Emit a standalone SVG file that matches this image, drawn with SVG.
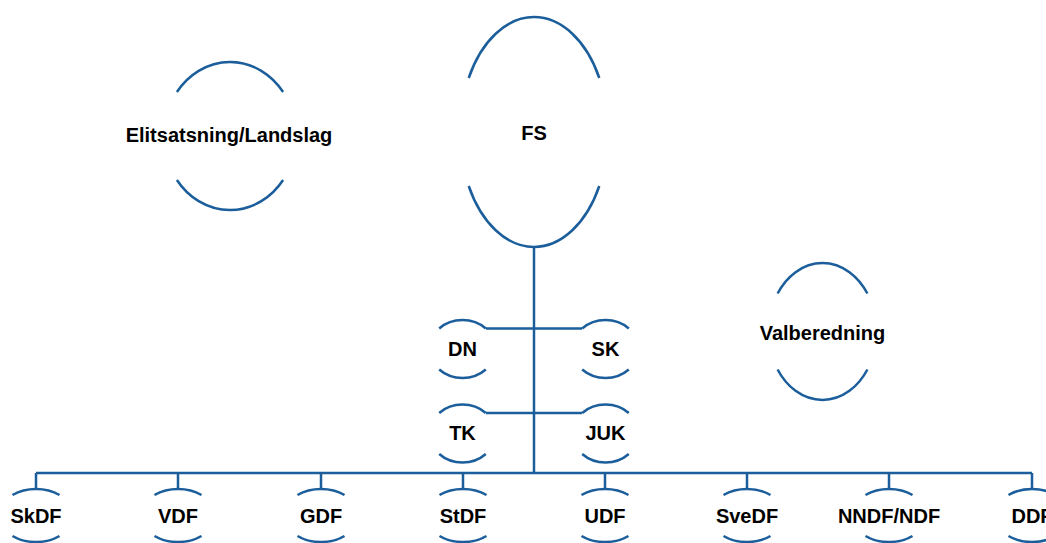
<svg xmlns="http://www.w3.org/2000/svg" width="1046" height="543" viewBox="0 0 1046 543">
<style>
.arc{fill:none;stroke:#1B5E9B;stroke-width:2.5}
.ln{fill:none;stroke:#1B5E9B;stroke-width:2.5}
.t{font-family:"Liberation Sans",Arial,sans-serif;font-weight:bold;font-size:20px;fill:#000;text-anchor:middle}
</style>
<rect width="1046" height="543" fill="#fff"/>
<g id="connectors">
<path class="ln" d="M534 247V474" stroke-width="3"/>
<path class="ln" d="M36 473H1032"/>
<path class="ln" d="M36 473V489M178 473V489M321 473V489M463 473V489M605 473V489M747 473V489M889 473V489M1032 473V489"/>
<path class="ln" d="M486 328.5H582"/>
<path class="ln" d="M486 413H582"/>
</g>
<g id="elit">
<path class="arc" d="M176.9 92A66 74 0 0 1 283.1 92M176.9 180A66 74 0 0 0 283.1 180"/>
<text class="t" x="229" y="142">Elitsatsning/Landslag</text>
</g>
<g id="fs">
<path class="arc" d="M468.7 78A74 115 0 0 1 599.3 78M468.7 186A74 115 0 0 0 599.3 186"/>
<text class="t" x="534" y="140">FS</text>
</g>
<g id="valb">
<path class="arc" d="M777.6 293.5A54 68.5 0 0 1 867.4 293.5M777.6 369.5A54 68.5 0 0 0 867.4 369.5"/>
<text class="t" x="822.5" y="340">Valberedning</text>
</g>
<g id="dn">
<path class="arc" d="M439.2 328.5A33 29 0 0 1 485.8 328.5M439.2 369.5A33 29 0 0 0 485.8 369.5"/>
<text class="t" x="462.5" y="356">DN</text>
</g>
<g id="sk">
<path class="arc" d="M582.2 328.5A33 29 0 0 1 628.8 328.5M582.2 369.5A33 29 0 0 0 628.8 369.5"/>
<text class="t" x="605.5" y="356">SK</text>
</g>
<g id="tk">
<path class="arc" d="M439.2 413A33 29 0 0 1 485.8 413M439.2 454A33 29 0 0 0 485.8 454"/>
<text class="t" x="462.5" y="440">TK</text>
</g>
<g id="juk">
<path class="arc" d="M582.2 413A33 29 0 0 1 628.8 413M582.2 454A33 29 0 0 0 628.8 454"/>
<text class="t" x="605.5" y="440">JUK</text>
</g>
<g id="skdf">
<path class="arc" d="M12.5 495A37 26.5 0 0 1 59.5 495M12.5 536A37 26.5 0 0 0 59.5 536"/>
<text class="t" x="36" y="523">SkDF</text>
</g>
<g id="vdf">
<path class="arc" d="M154.5 495A37 26.5 0 0 1 201.5 495M154.5 536A37 26.5 0 0 0 201.5 536"/>
<text class="t" x="178" y="523">VDF</text>
</g>
<g id="gdf">
<path class="arc" d="M297.5 495A37 26.5 0 0 1 344.5 495M297.5 536A37 26.5 0 0 0 344.5 536"/>
<text class="t" x="321" y="523">GDF</text>
</g>
<g id="stdf">
<path class="arc" d="M439.5 495A37 26.5 0 0 1 486.5 495M439.5 536A37 26.5 0 0 0 486.5 536"/>
<text class="t" x="463" y="523">StDF</text>
</g>
<g id="udf">
<path class="arc" d="M581.5 495A37 26.5 0 0 1 628.5 495M581.5 536A37 26.5 0 0 0 628.5 536"/>
<text class="t" x="605" y="523">UDF</text>
</g>
<g id="svedf">
<path class="arc" d="M723.5 495A37 26.5 0 0 1 770.5 495M723.5 536A37 26.5 0 0 0 770.5 536"/>
<text class="t" x="747" y="523">SveDF</text>
</g>
<g id="nndf">
<path class="arc" d="M865.5 495A37 26.5 0 0 1 912.5 495M865.5 536A37 26.5 0 0 0 912.5 536"/>
<text class="t" x="889" y="523">NNDF/NDF</text>
</g>
<g id="ddf">
<path class="arc" d="M1008.5 495A37 26.5 0 0 1 1055.5 495M1008.5 536A37 26.5 0 0 0 1055.5 536"/>
<text class="t" x="1032" y="523">DDF</text>
</g>
</svg>
